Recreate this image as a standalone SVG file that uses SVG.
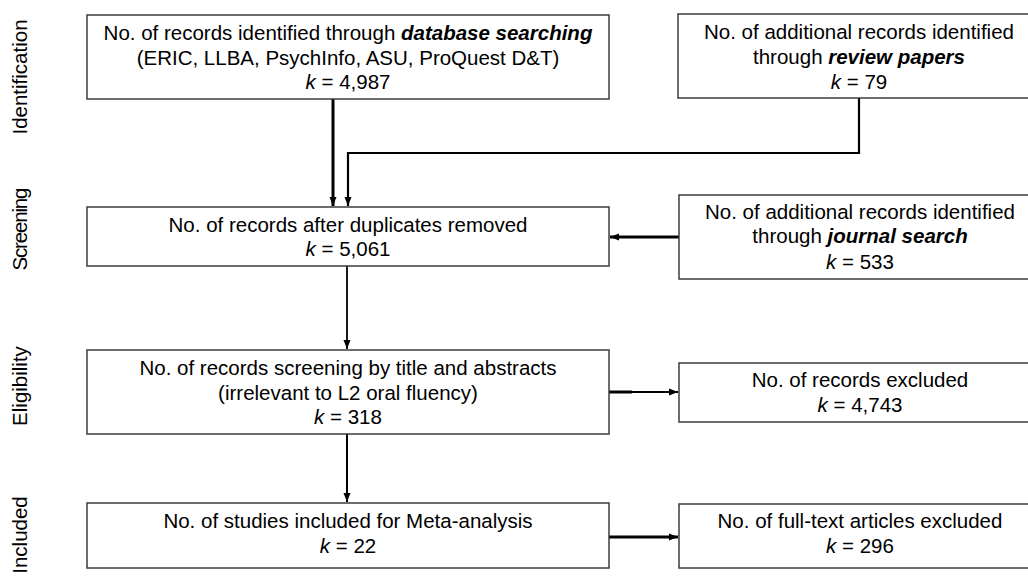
<svg xmlns="http://www.w3.org/2000/svg" width="1028" height="576" viewBox="0 0 1028 576">
<defs>
<style>
.box{fill:#fff;stroke:#3c3c3c;stroke-width:1.5}
.t{font-family:"Liberation Sans",Arial,sans-serif;font-size:20.5px;fill:#000;text-anchor:middle}
.side{font-family:"Liberation Sans",Arial,sans-serif;font-size:20.5px;fill:#000;text-anchor:middle}
.bi{font-weight:bold;font-style:italic}
.i{font-style:italic}
.c{fill:none;stroke:#000}
</style>
<marker id="ah" markerUnits="userSpaceOnUse" markerWidth="10" markerHeight="10" viewBox="0 0 10 10" refX="9" refY="5" orient="auto">
<path d="M0,1.5 L9,5 L0,8.5 Z" fill="#000"/>
</marker>
</defs>
<rect width="1028" height="576" fill="#fff"/>
<g id="side-labels">
<text class="side" transform="translate(27,77) rotate(-90)">Identification</text>
<text class="side" transform="translate(27,229) rotate(-90)" textLength="83">Screening</text>
<text class="side" transform="translate(27,386) rotate(-90)">Eligibility</text>
<text class="side" transform="translate(27,535) rotate(-90)">Included</text>
</g>
<g id="connectors">
<path class="c" d="M333,99 V206" stroke-width="3" marker-end="url(#ah)"/>
<path class="c" d="M859,98 V153 H348 V206" stroke-width="2.2" marker-end="url(#ah)"/>
<path class="c" d="M679,237 H610" stroke-width="2.8" marker-end="url(#ah)"/>
<path class="c" d="M347,266 V349" stroke-width="1.8" marker-end="url(#ah)"/>
<path class="c" d="M347,434 V502" stroke-width="2" marker-end="url(#ah)"/>
<path class="c" d="M609,392 H632" stroke-width="3"/>
<path class="c" d="M609,392 H678" stroke-width="1.8" marker-end="url(#ah)"/>
<path class="c" d="M609,537 H678" stroke-width="3" marker-end="url(#ah)"/>
</g>
<g id="n-database">
<rect class="box" x="87" y="15" width="522" height="84"/>
<text class="t" x="348" y="40">No. of records identified through <tspan class="bi">database searching</tspan></text>
<text class="t" x="348" y="64.5">(ERIC, LLBA, PsychInfo, ASU, ProQuest D&amp;T)</text>
<text class="t" x="348" y="89"><tspan class="i">k</tspan> = 4,987</text>
</g>
<g id="n-review">
<rect class="box" x="678" y="14" width="363" height="84"/>
<text class="t" x="859" y="39">No. of additional records identified</text>
<text class="t" x="859" y="63.5">through <tspan class="bi">review papers</tspan></text>
<text class="t" x="859" y="89"><tspan class="i">k</tspan> = 79</text>
</g>
<g id="n-duplicates">
<rect class="box" x="87" y="207" width="522" height="59"/>
<text class="t" x="348" y="231.5">No. of records after duplicates removed</text>
<text class="t" x="348" y="256"><tspan class="i">k</tspan> = 5,061</text>
</g>
<g id="n-journal">
<rect class="box" x="679" y="195" width="362" height="84"/>
<text class="t" x="860" y="218.5">No. of additional records identified</text>
<text class="t" x="860" y="243">through <tspan class="bi">journal search</tspan></text>
<text class="t" x="860" y="268.5"><tspan class="i">k</tspan> = 533</text>
</g>
<g id="n-screening">
<rect class="box" x="87" y="350" width="522" height="84"/>
<text class="t" x="348" y="375">No. of records screening by title and abstracts</text>
<text class="t" x="348" y="399.5">(irrelevant to L2 oral fluency)</text>
<text class="t" x="348" y="424"><tspan class="i">k</tspan> = 318</text>
</g>
<g id="n-excluded">
<rect class="box" x="679" y="363" width="362" height="59"/>
<text class="t" x="860" y="387">No. of records excluded</text>
<text class="t" x="860" y="412"><tspan class="i">k</tspan> = 4,743</text>
</g>
<g id="n-included">
<rect class="box" x="87" y="503" width="522" height="65"/>
<text class="t" x="348" y="528">No. of studies included for Meta-analysis</text>
<text class="t" x="348" y="552.5"><tspan class="i">k</tspan> = 22</text>
</g>
<g id="n-fulltext">
<rect class="box" x="679" y="504" width="362" height="64"/>
<text class="t" x="860" y="528">No. of full-text articles excluded</text>
<text class="t" x="860" y="553"><tspan class="i">k</tspan> = 296</text>
</g>
</svg>
